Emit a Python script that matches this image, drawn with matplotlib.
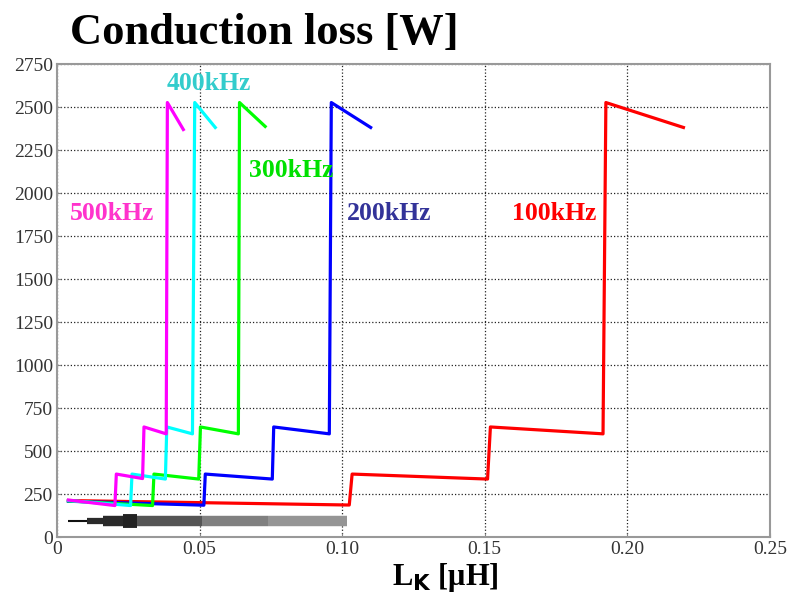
import numpy as np
import matplotlib.pyplot as plt

# Conduction loss vs L_K for the 5 switching frequencies
freqs = ['100kHz', '200kHz', '300kHz', '400kHz', '500kHz']
line_colors = ['#ff0000', '#0000ff', '#00ff00', '#00ffff', '#ff00ff']
text_colors = ['#ff0000', '#333399', '#00e000', '#33cccc', '#ff33cc']

lk_100 = [0.004, 0.1025, 0.1035, 0.1510, 0.1520, 0.1915, 0.1925, 0.2197]
p_100 = [212, 186, 366, 337, 640, 600, 2527, 2382]
lk_200 = [0.004, 0.0515, 0.0520, 0.0755, 0.0760, 0.0955, 0.0962, 0.1100]
p_200 = [208, 185, 366, 337, 640, 600, 2527, 2382]
lk_300 = [0.004, 0.0335, 0.0340, 0.0497, 0.0503, 0.0636, 0.0640, 0.0730]
p_300 = [210, 183, 366, 337, 640, 600, 2527, 2388]
lk_400 = [0.004, 0.0258, 0.0263, 0.0380, 0.0385, 0.0475, 0.0483, 0.0555]
p_400 = [212, 183, 366, 337, 640, 600, 2527, 2382]
lk_500 = [0.004, 0.0203, 0.0208, 0.0300, 0.0305, 0.0383, 0.0387, 0.0443]
p_500 = [215, 183, 366, 340, 640, 600, 2527, 2370]

# label positions (left x, centre y)
lab_x = [0.1596, 0.1018, 0.0674, 0.0386, 0.0046]
lab_y = [1883, 1883, 2132, 2638, 1883]

# grey bar at the bottom: segment edges, widths, shades
bar_y = 95
bar_x = [0.004, 0.0105, 0.016, 0.023, 0.028, 0.051, 0.074, 0.1018]
bar_w = [1.5, 4.5, 7.5, 10, 7.5, 7.5, 7.5]
bar_c = ['#111111', '#2a2a2a', '#2a2a2a', '#222222', '#555555', '#808080', '#959595']

xs = [lk_100, lk_200, lk_300, lk_400, lk_500]
ys = [p_100, p_200, p_300, p_400, p_500]

plt.rcParams['font.family'] = ['Liberation Serif', 'DejaVu Serif']

fig = plt.figure(figsize=(7.92, 6), dpi=100)
ax = fig.add_axes([0.072, 0.105, 0.900, 0.788])

for i in range(len(bar_w)):
    ax.plot([bar_x[i], bar_x[i + 1]], [bar_y, bar_y], color=bar_c[i],
            lw=bar_w[i], solid_capstyle='butt')

for i in range(len(freqs)):
    ax.plot(xs[i], ys[i], color=line_colors[i], lw=2.3)
    ax.text(lab_x[i], lab_y[i], freqs[i], color=text_colors[i], fontsize=18.5,
            fontweight='bold', ha='left', va='center')

ax.set_xlim(0, 0.25)
ax.set_ylim(0, 2750)
ax.set_xticks([0, 0.05, 0.10, 0.15, 0.20, 0.25])
ax.set_xticklabels(['0', '0.05', '0.10', '0.15', '0.20', '0.25'])
ax.set_yticks(np.arange(0, 2751, 250))
ax.grid(True, color='#222222', linestyle=':', linewidth=0.9)
ax.tick_params(direction='in', length=3, labelsize=14, labelcolor='#333333',
               color='#888888', pad=3)
for s in ax.spines.values():
    s.set_color('#999999')
    s.set_linewidth(1.5)

fig.text(0.088, 0.945, 'Conduction loss [W]', fontsize=32, fontweight='bold',
         ha='left', va='center')
fig.text(0.562, 0.037, r'L$_{\mathbf{K}}$ [μH]', fontsize=22, fontweight='bold',
         ha='center', va='center')

plt.savefig('out.png')
